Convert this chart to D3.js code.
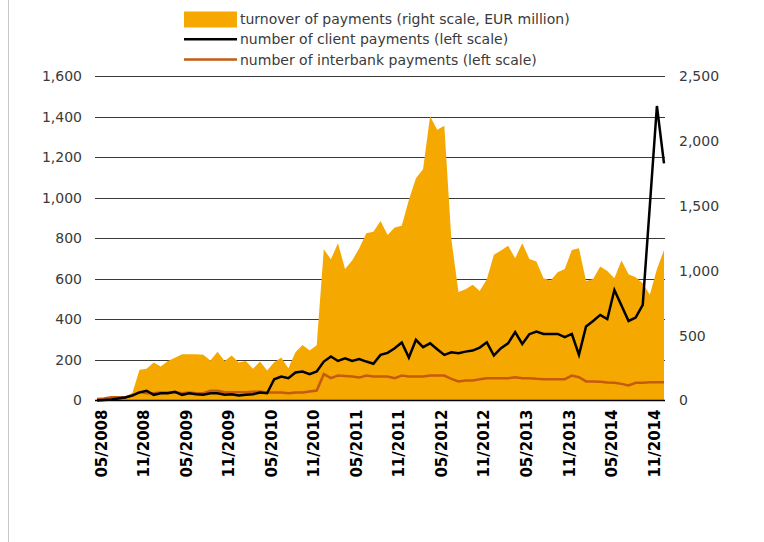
<!DOCTYPE html>
<html>
<head>
<meta charset="utf-8">
<script src="https://cdn.jsdelivr.net/npm/d3@7"></script>
<style>
  html, body { margin: 0; padding: 0; background: #fff; }
  svg { display: block; font-family: "DejaVu Sans", "Liberation Sans", Arial, sans-serif; }
</style>
</head>
<body>
<svg id="chart" width="764" height="542"></svg>
<script>
// Monthly series, 05/2008 – 01/2015
const startYear = 2008, startMonth = 5, monthCount = 81;

// Turnover of payments, EUR million (right scale)
const turnover = [
  15, 20, 30, 30, 30, 60, 236, 244, 293, 262, 305, 330,
  357, 357, 357, 352, 308, 375, 305, 346, 293, 305, 244, 300,
  231, 295, 331, 249, 372, 428, 385, 426, 1165, 1088, 1211, 1014,
  1078, 1173, 1288, 1301, 1383, 1276, 1332, 1347, 1545, 1712, 1781, 2190,
  2085, 2117, 1240, 835, 857, 891, 844, 934, 1122, 1155, 1193, 1096,
  1211, 1091, 1070, 942, 924, 988, 1014, 1160, 1173, 921, 937, 1032,
  998, 942, 1078, 973, 950, 903, 814, 1011, 1160
];

// Number of client payments (left scale)
const clientPayments = [
  0, 3, 5, 10, 15, 25, 40, 48, 28, 36, 36, 43,
  28, 36, 31, 28, 36, 36, 28, 31, 25, 28, 31, 39,
  36, 105, 118, 110, 138, 143, 130, 143, 192, 217, 195, 208,
  195, 204, 192, 181, 225, 235, 258, 286, 212, 299, 263, 282,
  253, 225, 238, 233, 241, 246, 261, 287, 222, 258, 282, 337,
  279, 327, 340, 328, 328, 328, 312, 328, 225, 365, 392, 422,
  401, 545, 468, 392, 409, 471, 960, 1452, 1169
];

// Number of interbank payments (left scale)
const interbankPayments = [
  7, 10, 16, 16, 16, 23, 41, 36, 36, 39, 40, 41,
  36, 39, 36, 36, 48, 48, 41, 41, 41, 41, 43, 44,
  39, 39, 39, 36, 39, 39, 44, 49, 130, 110, 123, 121,
  118, 113, 123, 118, 118, 118, 110, 123, 118, 118, 118, 123,
  123, 123, 107, 94, 99, 99, 105, 110, 110, 110, 110, 115,
  110, 110, 107, 105, 105, 105, 105, 123, 115, 94, 94, 92,
  89, 87, 82, 74, 87, 87, 90, 90, 90
];

const leftTicks = [0, 200, 400, 600, 800, 1000, 1200, 1400, 1600];
const rightTicks = [0, 500, 1000, 1500, 2000, 2500];

const legendItems = [
  { label: "turnover of payments (right scale, EUR million)", type: "area", color: "#F5A800" },
  { label: "number of client payments (left scale)", type: "line", color: "#000000" },
  { label: "number of interbank payments (left scale)", type: "line", color: "#C55A11" }
];

// Month labels "MM/YYYY"
const months = d3.range(monthCount).map(i => {
  const m = (startMonth - 1 + i) % 12 + 1;
  const y = startYear + Math.floor((startMonth - 1 + i) / 12);
  return String(m).padStart(2, "0") + "/" + y;
});
const axisMonths = months.filter((d, i) => i % 6 === 0 && i <= 78);

const svg = d3.select("#chart");

// Page frame line on the left
svg.append("line")
  .attr("x1", 8.5).attr("x2", 8.5).attr("y1", 0).attr("y2", 542)
  .attr("stroke", "#c8c8c8").attr("stroke-width", 1);

const plot = { left: 95, right: 665, top: 76, bottom: 400.5 };

const x = d3.scalePoint().domain(months).range([97, 664]);
const yLeft = d3.scaleLinear().domain([0, 1600]).range([plot.bottom, plot.top]);
const yRight = d3.scaleLinear().domain([0, 2500]).range([plot.bottom, plot.top]);

// Gridlines
svg.append("g")
  .selectAll("line")
  .data(leftTicks.filter(d => d > 0))
  .join("line")
  .attr("x1", plot.left).attr("x2", plot.right)
  .attr("y1", d => Math.round(yLeft(d)) + 0.5)
  .attr("y2", d => Math.round(yLeft(d)) + 0.5)
  .attr("stroke", "#3a3a3a").attr("stroke-width", 1);

// Turnover area
const area = d3.area()
  .x((d, i) => x(months[i]))
  .y0(yRight(0))
  .y1(d => yRight(d));
svg.append("path")
  .datum(turnover)
  .attr("d", area)
  .attr("fill", "#F5A800");

// Lines
const lineLeft = d3.line()
  .x((d, i) => x(months[i]))
  .y(d => yLeft(d));

svg.append("path")
  .datum(interbankPayments)
  .attr("d", lineLeft)
  .attr("fill", "none")
  .attr("stroke", "#C55A11")
  .attr("stroke-width", 2.5)
  .attr("stroke-linejoin", "miter");

svg.append("path")
  .datum(clientPayments)
  .attr("d", lineLeft)
  .attr("fill", "none")
  .attr("stroke", "#000")
  .attr("stroke-width", 2.5)
  .attr("stroke-linejoin", "miter");

const labelFont = "'DejaVu Sans', 'Liberation Sans', Arial, sans-serif";

// Left axis
const gL = svg.append("g")
  .attr("transform", `translate(${plot.left},0)`)
  .call(d3.axisLeft(yLeft).tickValues(leftTicks).tickFormat(d3.format(",")).tickSize(0).tickPadding(13));
gL.select(".domain").remove();
gL.selectAll("text").attr("font-size", 14).attr("fill", "#3a3a3a")
  .style("font-family", labelFont);

// Right axis
const gR = svg.append("g")
  .attr("transform", `translate(${plot.right},0)`)
  .call(d3.axisRight(yRight).tickValues(rightTicks).tickFormat(d3.format(",")).tickSize(0).tickPadding(14));
gR.select(".domain").remove();
gR.selectAll("text").attr("font-size", 14).attr("fill", "#3a3a3a")
  .style("font-family", labelFont);

// Baseline
svg.append("line")
  .attr("x1", plot.left).attr("x2", plot.right)
  .attr("y1", plot.bottom).attr("y2", plot.bottom)
  .attr("stroke", "#000").attr("stroke-width", 1.5);

// Bottom axis with rotated month labels
const gB = svg.append("g")
  .attr("transform", `translate(0,${plot.bottom})`)
  .call(d3.axisBottom(x).tickValues(axisMonths).tickSize(0).tickPadding(0));
gB.select(".domain").remove();
gB.selectAll("text")
  .attr("font-size", 15)
  .attr("font-weight", "bold")
  .attr("fill", "#000")
  .style("font-family", labelFont)
  .attr("text-anchor", "end")
  .attr("dy", "0.35em")
  .attr("transform", "translate(4,9) rotate(-90)");

// Legend
const legend = svg.append("g").attr("transform", "translate(184,0)");
legendItems.forEach((item, i) => {
  const cy = 19 + i * 20.3;
  if (item.type === "area") {
    legend.append("rect")
      .attr("x", 0).attr("y", cy - 7.5).attr("width", 53).attr("height", 16)
      .attr("fill", item.color);
  } else {
    legend.append("line")
      .attr("x1", 0).attr("x2", 53).attr("y1", cy).attr("y2", cy)
      .attr("stroke", item.color).attr("stroke-width", 2.5);
  }
  legend.append("text")
    .attr("x", 56).attr("y", cy).attr("dy", "0.35em")
    .attr("font-size", 14).attr("fill", "#3a3a3a")
    .style("font-family", labelFont)
    .text(item.label);
});
</script>
</body>
</html>
